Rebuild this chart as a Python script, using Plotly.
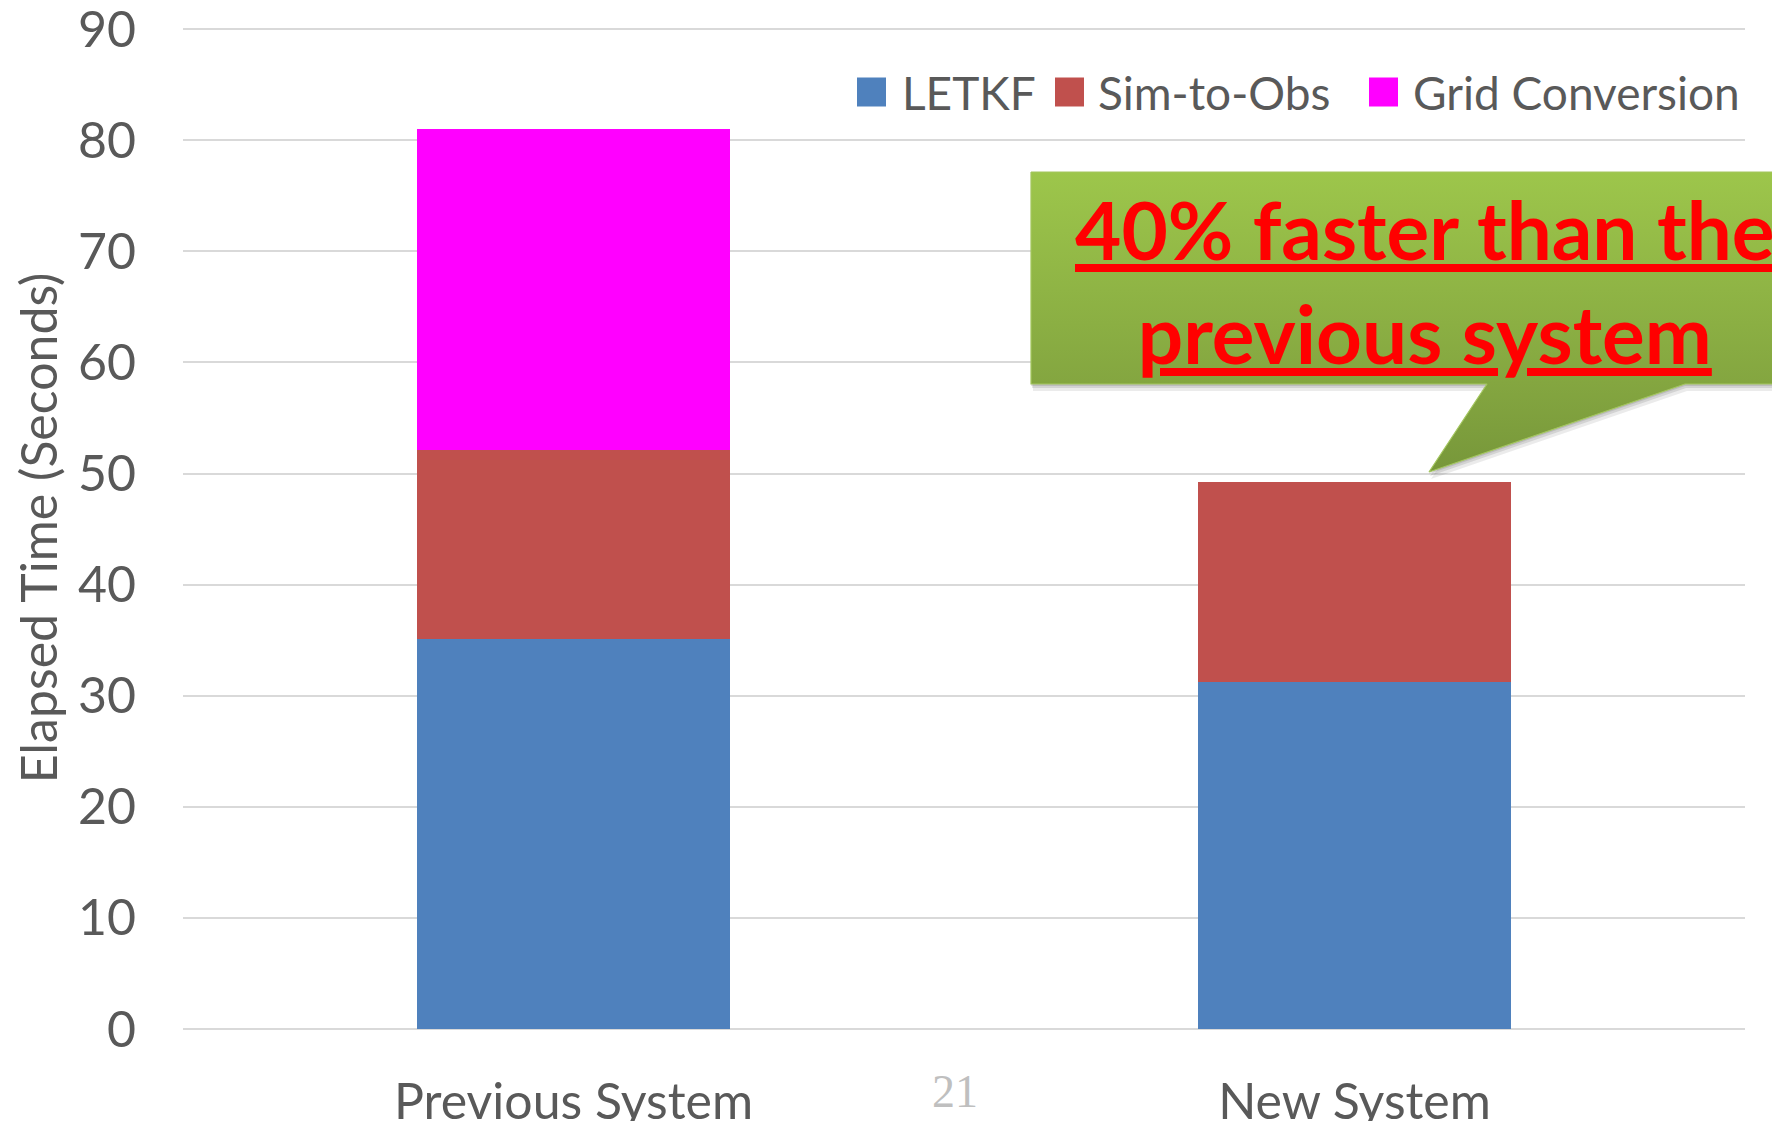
import plotly.graph_objects as go

# ---- data -----------------------------------------------------------------
categories = ["Previous System", "New System"]
series_names = ["LETKF", "Sim-to-Obs", "Grid Conversion"]
letkf = [35.1, 31.2]
sim_to_obs = [17.0, 18.0]
grid_conversion = [28.9, None]
series_colors = ["#4F81BD", "#C0504D", "#FF00FF"]
y_tick_values = [0, 10, 20, 30, 40, 50, 60, 70, 80, 90]
y_title = "Elapsed Time (Seconds)"
callout_lines = ["40% faster than the", "previous system"]
page_number = "21"

# ---- page geometry ----------------------------------------------------------
W, H = 1772, 1121
ML, MR, MT, MB = 183, 0, 27, 92
PLOT_W = W - ML - MR
PLOT_H = H - MT - MB
GRID_RIGHT = 1745  # right end of the horizontal grid lines
Y_TOP = 90.2       # a little headroom so the 90 grid line is kept

TEXT = "#595959"
FONT = "Lato, 'Open Sans', sans-serif"


def px(x, y):
    """Convert page pixels to paper coordinates."""
    return (x - ML) / PLOT_W, (H - MB - y) / PLOT_H


fig = go.Figure()

series_values = [letkf, sim_to_obs, grid_conversion]
for name, vals, col in zip(series_names, series_values, series_colors):
    fig.add_trace(go.Bar(
        x=categories, y=vals, name=name,
        marker=dict(color=col, line=dict(width=0)),
        showlegend=False,
    ))

# ---- callout balloon (drawn on a pixel-scaled overlay subplot) -------------
box_l, box_t, box_r, box_b = 1031, 172, 1790, 384
tail = [(1685, 384), (1429, 472), (1487, 384)]
poly = [(box_l, box_t), (box_r, box_t), (box_r, box_b), tail[0], tail[1], tail[2],
        (box_l, box_b), (box_l, box_t)]

for dx, dy, a in [(0, 2, 0.10), (1, 4, 0.10), (2, 7, 0.08)]:
    fig.add_trace(go.Scatter(
        x=[p[0] + dx for p in poly], y=[p[1] + dy for p in poly],
        xaxis="x2", yaxis="y2", mode="lines", fill="toself",
        fillcolor=f"rgba(0,0,0,{a})", line=dict(width=0),
        hoverinfo="skip", showlegend=False,
    ))

fig.add_trace(go.Scatter(
    x=[p[0] for p in poly], y=[p[1] for p in poly],
    xaxis="x2", yaxis="y2", mode="lines", fill="toself",
    fillgradient=dict(type="vertical",
                      colorscale=[[0, "#77973A"], [0.3, "#84A640"], [1, "#9DC64B"]]),
    line=dict(width=1.2, color="#A3C65E"),
    hoverinfo="skip", showlegend=False,
))

cx, cy = px(1425, 281)
fig.add_annotation(
    x=cx, y=cy, xref="paper", yref="paper", xanchor="center", yanchor="middle",
    text="<br>".join(f"<u>{line}</u>" for line in callout_lines),
    showarrow=False,
    font=dict(family=FONT, size=80, color="#FF0000", weight=700),
)

# ---- legend (large square swatches) ------------------------------------------
legend_items = [(857, 902), (1055, 1098), (1369, 1413)]
for (sq_x, tx), name, col in zip(legend_items, series_names, series_colors):
    x0, y0 = px(sq_x, 106.5)
    x1, y1 = px(sq_x + 29, 77.5)
    fig.add_shape(type="rect", xref="paper", yref="paper",
                  x0=x0, x1=x1, y0=y0, y1=y1,
                  fillcolor=col, line=dict(width=0))
    ax_, ay_ = px(tx - 2, 92)
    fig.add_annotation(x=ax_, y=ay_, xref="paper", yref="paper",
                       xanchor="left", yanchor="middle", showarrow=False,
                       text=name, font=dict(family=FONT, size=46, color=TEXT))

# ---- slide number --------------------------------------------------------------
nx, ny = px(955, 1091)
fig.add_annotation(x=nx, y=ny, xref="paper", yref="paper",
                   xanchor="center", yanchor="middle", showarrow=False,
                   text=page_number,
                   font=dict(family="'Liberation Serif', 'DejaVu Serif', serif",
                             size=46, color="#BFBFBF"))

fig.update_layout(
    width=W, height=H,
    margin=dict(l=ML, r=MR, t=MT, b=MB, pad=0),
    barmode="stack", bargap=0.6,
    paper_bgcolor="white", plot_bgcolor="rgba(0,0,0,0)",
    font=dict(family=FONT, color=TEXT),
    showlegend=False,
    xaxis=dict(
        domain=[0, (GRID_RIGHT - ML) / PLOT_W],
        showgrid=False, showline=False, zeroline=False, ticks="",
        tickfont=dict(family=FONT, size=50, color=TEXT),
        ticklabelstandoff=39, ticklabeloverflow="allow",
        automargin=False, fixedrange=True,
    ),
    yaxis=dict(
        range=[0, Y_TOP], tickvals=y_tick_values,
        showgrid=True, gridcolor="#D9D9D9", gridwidth=2,
        zeroline=True, zerolinecolor="#D9D9D9", zerolinewidth=2,
        showline=False, ticks="",
        tickfont=dict(family=FONT, size=50, color=TEXT),
        ticklabelstandoff=46, ticklabeloverflow="allow",
        title=dict(text=y_title, font=dict(family=FONT, size=50, color=TEXT),
                   standoff=4),
        automargin=False, fixedrange=True,
    ),
    xaxis2=dict(domain=[0, 1], range=[ML, W], anchor="y2", visible=False,
                fixedrange=True),
    yaxis2=dict(domain=[0, 1], range=[H - MB, MT], anchor="x2", visible=False,
                fixedrange=True),
)

fig.write_html("out.html")
